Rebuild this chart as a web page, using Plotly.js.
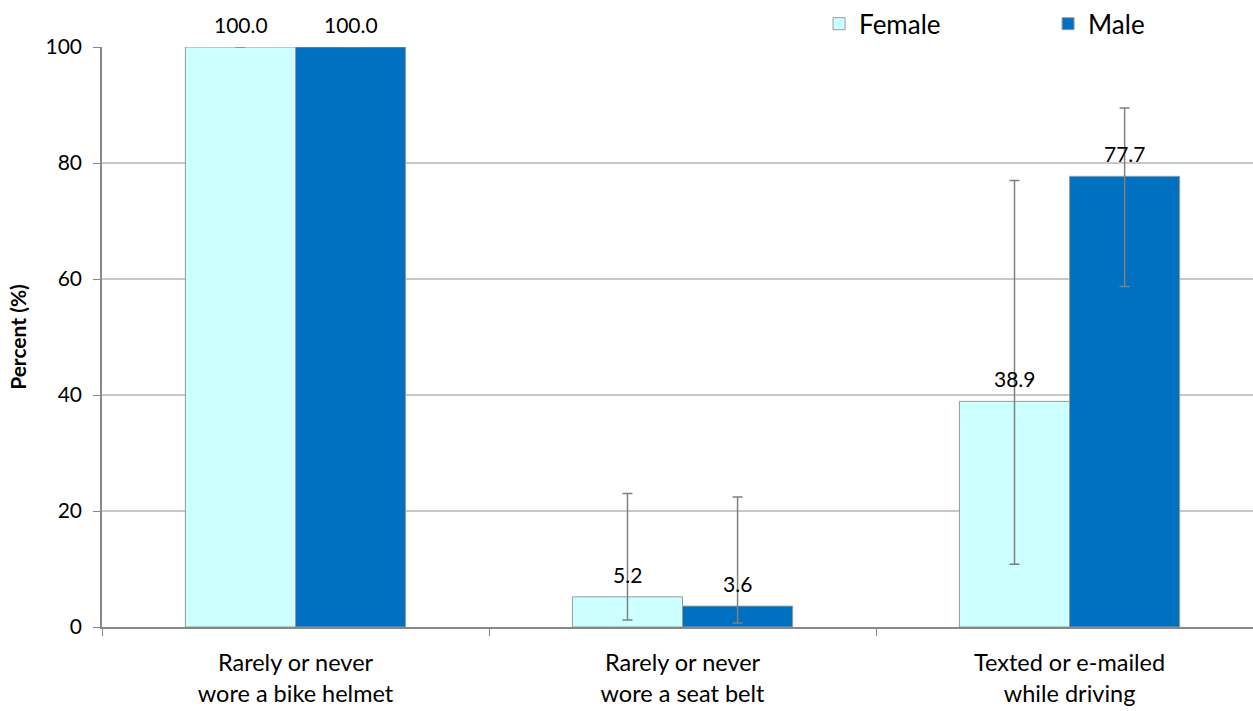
<!DOCTYPE html>
<html><head><meta charset="utf-8">
<script src="https://cdn.plot.ly/plotly-3.0.1.min.js"></script>
<style>body{margin:0;background:#fff}#chart{width:1253px;height:711px}</style>
</head><body><div id="chart"></div>
<script>
var categories = ["Rarely or never<br>wore a bike helmet","Rarely or never<br>wore a seat belt","Texted or e-mailed<br>while driving"];
var female = [100.0, 5.2, 38.9];
var male = [100.0, 3.6, 77.7];
var femaleLow = [100.0, 1.2, 10.8];
var femaleHigh = [100.0, 23.0, 77.0];
var maleLow = [100.0, 0.7, 58.7];
var maleHigh = [100.0, 22.4, 89.5];
var yTicks = [0, 20, 40, 60, 80, 100];

function plus(v, hi){return v.map(function(d,i){return hi[i]-d;});}
function minus(v, lo){return v.map(function(d,i){return d-lo[i];});}

var font = "Lato, 'Open Sans', sans-serif";
var traces = [
 {type:'bar', name:'Female', x:categories, y:female,
  marker:{color:'#CCFFFF', line:{color:'#9A9A9A', width:1}},
  error_y:{type:'data', symmetric:false, array:plus(female,femaleHigh), arrayminus:minus(female,femaleLow), color:'#808080', thickness:1.5, width:5}},
 {type:'bar', name:'Male', x:categories, y:male,
  marker:{color:'#0070C0', line:{color:'#9A9A9A', width:1}},
  error_y:{type:'data', symmetric:false, array:plus(male,maleHigh), arrayminus:minus(male,maleLow), color:'#808080', thickness:1.5, width:5}}
];
var ann = [];
categories.forEach(function(c,i){
  ann.push({x:c, y:female[i], text:female[i].toFixed(1), showarrow:false, xref:'x', yref:'y', yanchor:'bottom', xshift:-55, yshift:8, font:{family:font, size:21, color:'#000'}});
  ann.push({x:c, y:male[i], text:male[i].toFixed(1), showarrow:false, xref:'x', yref:'y', yanchor:'bottom', xshift:55, yshift:8, font:{family:font, size:21, color:'#000'}});
});
var layout = {
  width:1253, height:711,
  margin:{l:102, r:0, t:47, b:84, autoexpand:false},
  paper_bgcolor:'#fff', plot_bgcolor:'#fff',
  font:{family:font, size:20, color:'#000'},
  barmode:'group', bargap:0.431, bargroupgap:0,
  showlegend:true,
  legend:{orientation:'h', x:0.623, xanchor:'left', y:1.04, yanchor:'middle', font:{family:font, size:26}, entrywidth:184, entrywidthmode:'pixels', itemwidth:30, traceorder:'normal', bgcolor:'rgba(0,0,0,0)'},
  xaxis:{type:'category', range:[-0.5, 2.474], showline:true, linecolor:'#888', linewidth:1.5, ticks:'outside', tickson:'boundaries', ticklen:7, tickcolor:'#888', tickfont:{family:font, size:23.5}, ticklabelstandoff:14, showgrid:false},
  yaxis:{range:[0,100], tickvals:yTicks, ticktext:yTicks.map(String), showline:true, linecolor:'#888', linewidth:1.5, ticks:'outside', ticklen:7, tickcolor:'#888', gridcolor:'#C8C8C8', gridwidth:1.5, zeroline:false, tickfont:{family:font, size:21}, ticklabelstandoff:7,
   title:{text:'<b>Percent (%)</b>', font:{family:font, size:21}, standoff:13}},
  annotations:ann
};
Plotly.newPlot('chart', traces, layout, {displayModeBar:false});
</script></body></html>
